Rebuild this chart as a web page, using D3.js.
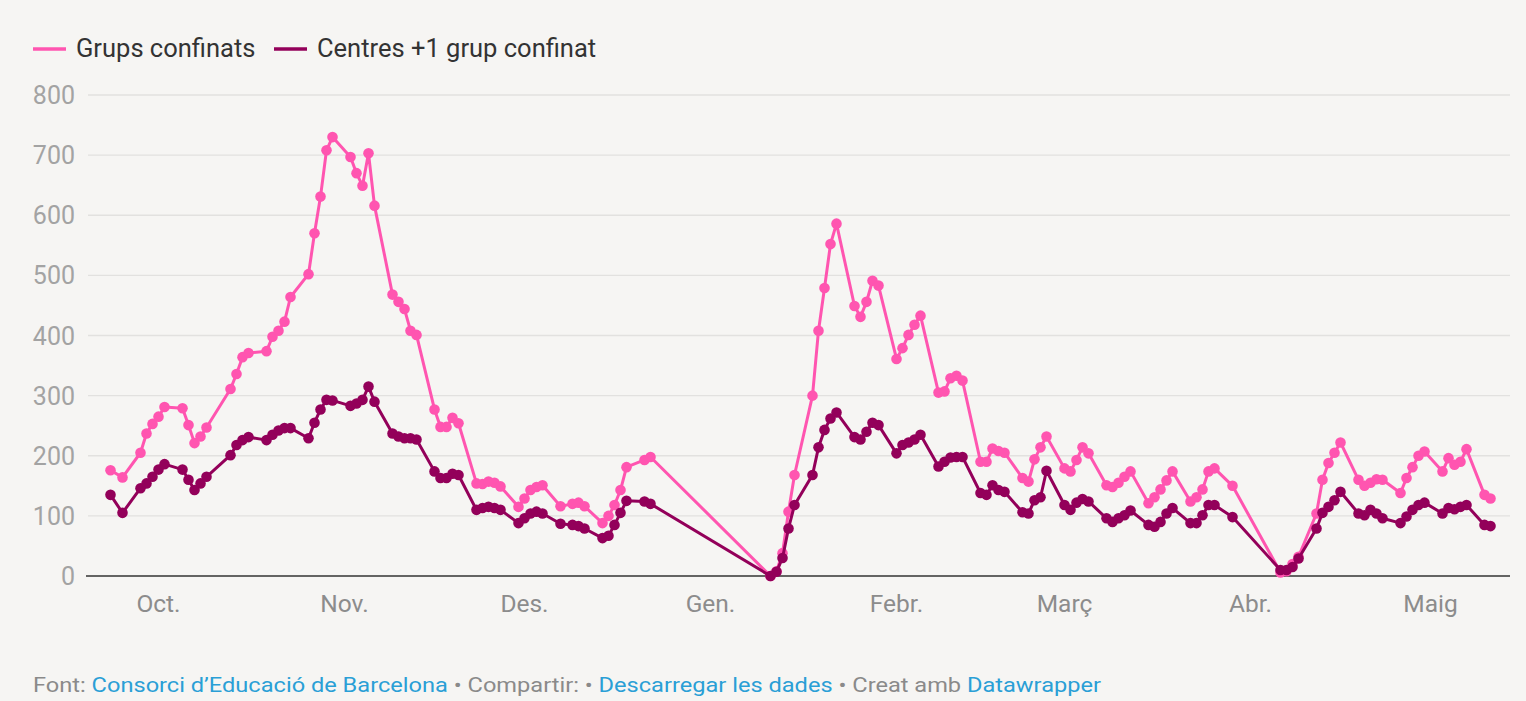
<!DOCTYPE html>
<html>
<head>
<meta charset="utf-8">
<script src="https://cdn.jsdelivr.net/npm/d3@7"></script>
<style>
  html, body { margin: 0; padding: 0; background: #f6f5f3; }
  svg { display: block; font-family: Roboto, "Noto Sans", sans-serif; }
</style>
</head>
<body>
<div id="grafic"></div>
<script>
// dies lectius (sense caps de setmana ni festius)
const dies = [
  "2020-09-23","2020-09-25","2020-09-28","2020-09-29","2020-09-30","2020-10-01","2020-10-02",
  "2020-10-05","2020-10-06","2020-10-07","2020-10-08","2020-10-09",
  "2020-10-13","2020-10-14","2020-10-15","2020-10-16",
  "2020-10-19","2020-10-20","2020-10-21","2020-10-22","2020-10-23",
  "2020-10-26","2020-10-27","2020-10-28","2020-10-29","2020-10-30",
  "2020-11-02","2020-11-03","2020-11-04","2020-11-05","2020-11-06",
  "2020-11-09","2020-11-10","2020-11-11","2020-11-12","2020-11-13",
  "2020-11-16","2020-11-17","2020-11-18","2020-11-19","2020-11-20",
  "2020-11-23","2020-11-24","2020-11-25","2020-11-26","2020-11-27",
  "2020-11-30","2020-12-01","2020-12-02","2020-12-03","2020-12-04",
  "2020-12-07","2020-12-09","2020-12-10","2020-12-11",
  "2020-12-14","2020-12-15","2020-12-16","2020-12-17","2020-12-18",
  "2020-12-21","2020-12-22",
  "2021-01-11","2021-01-12","2021-01-13","2021-01-14","2021-01-15",
  "2021-01-18","2021-01-19","2021-01-20","2021-01-21","2021-01-22",
  "2021-01-25","2021-01-26","2021-01-27","2021-01-28","2021-01-29",
  "2021-02-01","2021-02-02","2021-02-03","2021-02-04","2021-02-05",
  "2021-02-08","2021-02-09","2021-02-10","2021-02-11","2021-02-12",
  "2021-02-15","2021-02-16","2021-02-17","2021-02-18","2021-02-19",
  "2021-02-22","2021-02-23","2021-02-24","2021-02-25","2021-02-26",
  "2021-03-01","2021-03-02","2021-03-03","2021-03-04","2021-03-05",
  "2021-03-08","2021-03-09","2021-03-10","2021-03-11","2021-03-12",
  "2021-03-15","2021-03-16","2021-03-17","2021-03-18","2021-03-19",
  "2021-03-22","2021-03-23","2021-03-24","2021-03-25","2021-03-26",
  "2021-03-29",
  "2021-04-06","2021-04-07","2021-04-08","2021-04-09",
  "2021-04-12","2021-04-13","2021-04-14","2021-04-15","2021-04-16",
  "2021-04-19","2021-04-20","2021-04-21","2021-04-22","2021-04-23",
  "2021-04-26","2021-04-27","2021-04-28","2021-04-29","2021-04-30",
  "2021-05-03","2021-05-04","2021-05-05","2021-05-06","2021-05-07",
  "2021-05-10","2021-05-11"
];

const grups_confinats = [
  176,164,205,237,253,265,281,
  279,251,221,232,247,
  311,336,364,371,
  374,398,408,423,464,
  502,570,631,708,730,
  697,670,649,703,616,
  468,456,444,408,401,
  277,248,248,263,254,
  154,153,157,155,149,
  115,129,143,148,151,
  116,120,122,116,
  88,100,118,143,181,
  193,198,
  0,8,38,107,168,
  300,408,479,552,586,
  449,431,456,491,483,
  361,379,401,418,433,
  305,307,329,333,325,
  190,190,212,208,205,
  163,157,194,214,232,
  179,174,193,214,204,
  151,148,155,165,174,
  121,131,144,159,174,
  124,131,144,174,179,
  150,
  6,8,20,32,
  104,160,188,205,222,
  160,150,155,161,160,
  138,163,181,200,207,
  174,196,185,190,211,
  135,129
];

const centres_confinats = [
  135,105,146,154,165,177,186,
  177,160,143,154,165,
  201,218,226,231,
  226,235,242,246,246,
  229,255,277,293,292,
  283,287,293,315,290,
  237,232,229,229,227,
  174,163,163,170,168,
  110,113,115,113,110,
  88,96,104,107,104,
  87,85,83,79,
  63,67,85,105,125,
  124,120,
  0,7,30,79,118,
  168,214,243,262,272,
  231,227,240,255,251,
  204,218,222,227,235,
  182,190,197,198,198,
  138,135,151,143,140,
  106,104,126,131,175,
  118,110,122,128,124,
  96,90,96,101,109,
  85,82,90,104,113,
  88,88,101,118,118,
  98,
  10,10,15,29,
  79,105,115,126,140,
  104,101,110,104,96,
  88,99,110,118,122,
  104,113,111,115,118,
  85,83
];

const mesos = ["2020-10-01","2020-11-01","2020-12-01","2021-01-01","2021-02-01","2021-03-01","2021-04-01","2021-05-01"];
const noms_mesos = ["Oct.","Nov.","Des.","Gen.","Febr.","Març","Abr.","Maig"];
const ticks_y = [0,100,200,300,400,500,600,700,800];
const series = ["Grups confinats","Centres +1 grup confinat"];
const colors = ["#ff55b0","#93005a"];

const W = 1526, H = 701;
const parseDia = d3.utcParse("%Y-%m-%d");

const svg = d3.select("#grafic").append("svg")
    .attr("width", W)
    .attr("height", H);

svg.append("rect").attr("width", W).attr("height", H).attr("fill", "#f6f5f3");

const x = d3.scaleUtc()
    .domain([new Date(Date.UTC(2020, 8, 19, 6)), new Date(Date.UTC(2021, 4, 14, 6))])
    .range([88, 1510]);
const y = d3.scaleLinear().domain([0, 800]).range([576, 95]);

// graella
svg.append("g").selectAll("line")
    .data(ticks_y.filter(d => d > 0))
    .join("line")
    .attr("x1", 88).attr("x2", 1510)
    .attr("y1", d => y(d)).attr("y2", d => y(d))
    .attr("stroke", "#e2e1df").attr("stroke-width", 1.3);

svg.append("g").selectAll("text")
    .data(ticks_y)
    .join("text")
    .attr("x", 75)
    .attr("y", d => y(d) + 9)
    .attr("text-anchor", "end")
    .attr("font-size", 25)
    .attr("fill", "#a3a3a3")
    .text(d => d);

svg.append("line")
    .attr("x1", 86).attr("x2", 1510)
    .attr("y1", y(0)).attr("y2", y(0))
    .attr("stroke", "#333").attr("stroke-width", 1.3);

svg.append("g").selectAll("text")
    .data(mesos)
    .join("text")
    .attr("x", d => x(parseDia(d)))
    .attr("y", 612)
    .attr("text-anchor", "middle")
    .attr("font-size", 24.5)
    .attr("fill", "#8c8c8c")
    .text((d, i) => noms_mesos[i]);

// series
const valors = [grups_confinats, centres_confinats];
const linia = d3.line()
    .x(d => x(d.dia))
    .y(d => y(d.v));

valors.forEach((serie, k) => {
    const punts = dies.map((d, i) => ({dia: parseDia(d), v: serie[i]}));
    const g = svg.append("g");
    g.append("path")
        .datum(punts)
        .attr("d", linia)
        .attr("fill", "none")
        .attr("stroke", colors[k])
        .attr("stroke-width", 3)
        .attr("stroke-linejoin", "round");
    g.selectAll("circle")
        .data(punts)
        .join("circle")
        .attr("cx", d => x(d.dia))
        .attr("cy", d => y(d.v))
        .attr("r", 5.3)
        .attr("fill", colors[k]);
});

// llegenda
const llegenda = svg.append("g");
const posLlegenda = [33, 274];
series.forEach((s, i) => {
    llegenda.append("line")
        .attr("x1", posLlegenda[i]).attr("x2", posLlegenda[i] + 33)
        .attr("y1", 49).attr("y2", 49)
        .attr("stroke", colors[i]).attr("stroke-width", 3.5);
    llegenda.append("text")
        .attr("x", posLlegenda[i] + 43)
        .attr("y", 57)
        .attr("font-size", 25.5)
        .attr("fill", "#333")
        .text(s);
});

// peu
const peu = svg.append("text")
    .attr("x", 33).attr("y", 692)
    .attr("font-size", 21)
    .attr("fill", "#8a8a8a")
    .attr("textLength", 1068)
    .attr("lengthAdjust", "spacingAndGlyphs");
const trossos = [
  ["Font: ", "#8a8a8a"],
  ["Consorci d\u2019Educació de Barcelona", "#2a9fd6"],
  [" \u2022 Compartir: \u2022 ", "#8a8a8a"],
  ["Descarregar les dades", "#2a9fd6"],
  [" \u2022 Creat amb ", "#8a8a8a"],
  ["Datawrapper", "#2a9fd6"]
];
trossos.forEach(t => peu.append("tspan").attr("fill", t[1]).text(t[0]));
</script>
</body>
</html>
